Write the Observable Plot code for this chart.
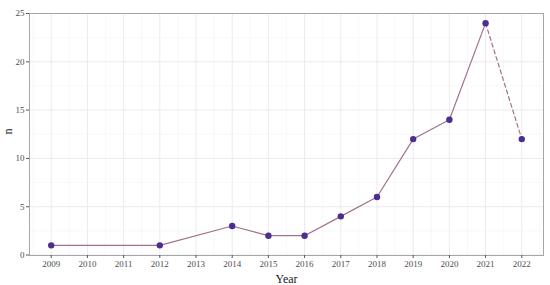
<!DOCTYPE html>
<html>
<head>
<meta charset="utf-8">
<script src="https://cdn.jsdelivr.net/npm/d3@7"></script>
<script src="https://cdn.jsdelivr.net/npm/@observablehq/plot@0.6"></script>
<style>
  html, body { margin: 0; padding: 0; background: #fff; }
  #chart svg { display: block; }
</style>
</head>
<body>
<div id="chart"></div>
<script>
const years = [2009, 2012, 2014, 2015, 2016, 2017, 2018, 2019, 2020, 2021, 2022];
const counts = [1, 1, 3, 2, 2, 4, 6, 12, 14, 24, 12];
const xTicks = [2009, 2010, 2011, 2012, 2013, 2014, 2015, 2016, 2017, 2018, 2019, 2020, 2021, 2022];
const yTicks = [0, 5, 10, 15, 20, 25];
const xMinor = [2008.5, 2009.5, 2010.5, 2011.5, 2012.5, 2013.5, 2014.5, 2015.5, 2016.5, 2017.5, 2018.5, 2019.5, 2020.5, 2021.5, 2022.5];
const yMinor = [2.5, 7.5, 12.5, 17.5, 22.5];
const lastSolidYear = 2021;

const data = years.map((y, i) => ({year: y, n: counts[i]}));
const solid = data.filter(d => d.year <= lastSolidYear);
const dashed = data.filter(d => d.year >= lastSolidYear);

const font = "'Liberation Serif', 'DejaVu Serif', serif";

const chart = Plot.plot({
  width: 550,
  height: 285,
  marginLeft: 29,
  marginRight: 7,
  marginTop: 13,
  marginBottom: 30,
  style: {fontFamily: font, fontSize: "9px", background: "#fff"},
  x: {domain: [2008.4, 2022.6], label: null},
  y: {domain: [-0.05, 25], label: null},
  marks: [
    Plot.ruleX(xMinor, {stroke: "#f3f3f3", strokeWidth: 0.6}),
    Plot.ruleY(yMinor, {stroke: "#f3f3f3", strokeWidth: 0.6}),
    Plot.ruleX(xTicks, {stroke: "#ebebeb", strokeWidth: 1}),
    Plot.ruleY(yTicks, {stroke: "#ebebeb", strokeWidth: 1}),
    Plot.frame({stroke: "#a6a6a6", strokeWidth: 1}),
    Plot.axisX(xTicks, {tickFormat: d => String(d), tickSize: 3, tickPadding: 2, stroke: "#555", fill: "#4d4d4d", fontSize: 9, label: null}),
    Plot.axisY(yTicks, {tickSize: 3, tickPadding: 2, stroke: "#555", fill: "#4d4d4d", fontSize: 9, label: null}),
    Plot.text(["Year"], {frameAnchor: "bottom", dy: 27, fontSize: 12, fill: "#1a1a1a"}),
    Plot.text(["n"], {frameAnchor: "left", dx: -21, rotate: -90, fontSize: 12, fill: "#1a1a1a"}),
    Plot.line(solid, {x: "year", y: "n", stroke: "#a2708f", strokeWidth: 1.2}),
    Plot.line(dashed, {x: "year", y: "n", stroke: "#a2708f", strokeWidth: 1.2, strokeDasharray: "4,3"}),
    Plot.dot(data, {x: "year", y: "n", r: 3.2, fill: "#4b2e91", stroke: "none"})
  ]
});
document.getElementById("chart").appendChild(chart);
</script>
</body>
</html>
